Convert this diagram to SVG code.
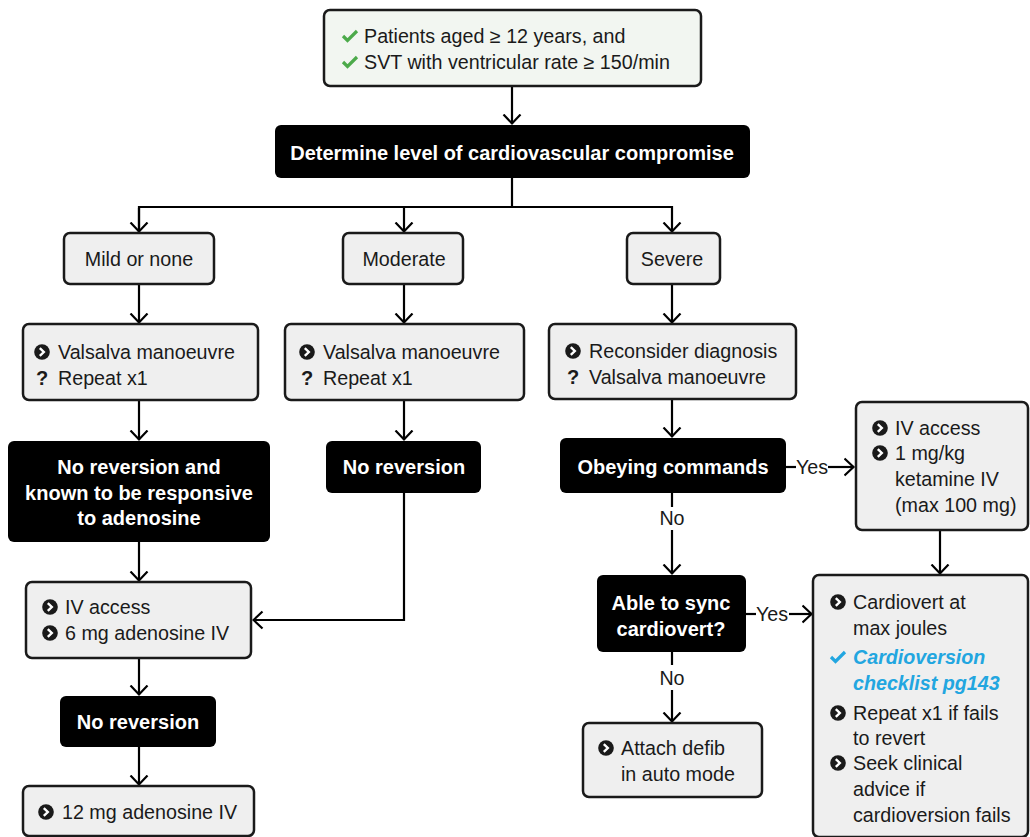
<svg xmlns="http://www.w3.org/2000/svg" width="1030" height="837" viewBox="0 0 1030 837">
  <style>
    .box { fill: #efefef; stroke: #1a1a1a; stroke-width: 2.5; }
    .top { fill: #f2f6f1; stroke: #1a1a1a; stroke-width: 2.5; }
    .dark { fill: #000; stroke: none; }
    .t { font-family: "Liberation Sans", Arial, sans-serif; font-size: 19.7px; fill: #1a1a1a; }
    .b { font-family: "Liberation Sans", Arial, sans-serif; font-size: 20px; font-weight: bold; fill: #fff; text-anchor: middle; }
    .c { text-anchor: middle; }
    .q { font-family: "Liberation Sans", Arial, sans-serif; font-size: 20px; font-weight: bold; fill: #1a1a1a; text-anchor: middle; }
    .blue { font-family: "Liberation Sans", Arial, sans-serif; font-size: 19.7px; font-weight: bold; font-style: italic; fill: #22a6e0; }
    .wire { fill: none; stroke: #000; stroke-width: 2.2; }
  </style>
  <defs>
    <marker id="arr" markerUnits="userSpaceOnUse" markerWidth="12" markerHeight="20" viewBox="0 0 12 20" refX="10.5" refY="10" orient="auto">
      <path d="M1,1.5 L10,10 L1,18.5" fill="none" stroke="#000" stroke-width="2.2"/>
    </marker>
    <!-- round black bullet with a white chevron -->
    <g id="bullet">
      <circle cx="0" cy="0" r="7.8" fill="#1a1a1a"/>
      <path d="M-2.2,-3.8 L1.8,0 L-2.2,3.8" fill="none" stroke="#fff" stroke-width="2.4"/>
    </g>
    <path id="tickG" d="M-7,0 L-2.5,4.5 L7,-5" fill="none" stroke="#4caa4a" stroke-width="3.2"/>
    <path id="tickB" d="M-7,0 L-2.5,4.5 L7,-5" fill="none" stroke="#22a6e0" stroke-width="3.2"/>
  </defs>

  <!-- connectors -->
  <g id="connectors">
    <line class="wire" x1="512" y1="87" x2="512" y2="124" marker-end="url(#arr)"/>
    <polyline class="wire" points="512,178 512,207"/>
    <polyline class="wire" points="139,232 139,207 672,207 672,232" marker-end="url(#arr)"/>
    <line class="wire" x1="139" y1="208" x2="139" y2="232" marker-end="url(#arr)"/>
    <line class="wire" x1="404" y1="207" x2="404" y2="232" marker-end="url(#arr)"/>
    <line class="wire" x1="139" y1="284" x2="139" y2="323" marker-end="url(#arr)"/>
    <line class="wire" x1="404" y1="284" x2="404" y2="323" marker-end="url(#arr)"/>
    <line class="wire" x1="672" y1="284" x2="672" y2="323" marker-end="url(#arr)"/>
    <line class="wire" x1="139" y1="400" x2="139" y2="440" marker-end="url(#arr)"/>
    <line class="wire" x1="404" y1="400" x2="404" y2="440" marker-end="url(#arr)"/>
    <line class="wire" x1="672" y1="399" x2="672" y2="437" marker-end="url(#arr)"/>
    <line class="wire" x1="139" y1="542" x2="139" y2="581" marker-end="url(#arr)"/>
    <polyline class="wire" points="404,493 404,620 253,620" marker-end="url(#arr)"/>
    <line class="wire" x1="139" y1="658" x2="139" y2="695" marker-end="url(#arr)"/>
    <line class="wire" x1="139" y1="747" x2="139" y2="785" marker-end="url(#arr)"/>
    <!-- Obeying commands: yes / no -->
    <line class="wire" x1="786" y1="467" x2="796" y2="467"/>
    <line class="wire" x1="828" y1="467" x2="854" y2="467" marker-end="url(#arr)"/>
    <line class="wire" x1="672" y1="493" x2="672" y2="507"/>
    <line class="wire" x1="672" y1="530" x2="672" y2="574" marker-end="url(#arr)"/>
    <line class="wire" x1="940" y1="530" x2="940" y2="574" marker-end="url(#arr)"/>
    <!-- Able to sync: yes / no -->
    <line class="wire" x1="746" y1="614" x2="756" y2="614"/>
    <line class="wire" x1="789" y1="614" x2="812" y2="614" marker-end="url(#arr)"/>
    <line class="wire" x1="672" y1="652" x2="672" y2="665"/>
    <line class="wire" x1="672" y1="690" x2="672" y2="722" marker-end="url(#arr)"/>
    <text class="t c" x="812" y="474">Yes</text>
    <text class="t c" x="672" y="525">No</text>
    <text class="t c" x="772" y="621">Yes</text>
    <text class="t c" x="672" y="685">No</text>
  </g>

  <g id="criteria">
    <rect class="top" x="324" y="10" width="377" height="76" rx="6"/>
    <use href="#tickG" x="350" y="36"/>
    <text class="t" x="364" y="43">Patients aged ≥ 12 years, and</text>
    <use href="#tickG" x="350" y="62"/>
    <text class="t" x="364" y="69">SVT with ventricular rate ≥ 150/min</text>
  </g>

  <g id="determine">
    <rect class="dark" x="275" y="125" width="475" height="53" rx="6"/>
    <text class="b" x="512" y="160">Determine level of cardiovascular compromise</text>
  </g>

  <g id="mild">
    <rect class="box" x="64" y="233" width="150" height="51" rx="6"/>
    <text class="t c" x="139" y="266">Mild or none</text>
  </g>
  <g id="moderate">
    <rect class="box" x="343" y="233" width="120" height="51" rx="6"/>
    <text class="t c" x="404" y="266">Moderate</text>
  </g>
  <g id="severe">
    <rect class="box" x="627" y="233" width="93" height="51" rx="6"/>
    <text class="t c" x="672" y="266">Severe</text>
  </g>

  <g id="valsalva-mild">
    <rect class="box" x="23" y="324" width="235" height="76" rx="6"/>
    <use href="#bullet" x="42" y="352"/>
    <text class="t" x="58" y="359">Valsalva manoeuvre</text>
    <text class="q" x="42" y="385">?</text>
    <text class="t" x="58" y="385">Repeat x1</text>
  </g>
  <g id="valsalva-moderate">
    <rect class="box" x="285" y="324" width="239" height="76" rx="6"/>
    <use href="#bullet" x="307" y="352"/>
    <text class="t" x="323" y="359">Valsalva manoeuvre</text>
    <text class="q" x="307" y="385">?</text>
    <text class="t" x="323" y="385">Repeat x1</text>
  </g>
  <g id="reconsider">
    <rect class="box" x="549" y="324" width="247" height="75" rx="6"/>
    <use href="#bullet" x="573" y="351"/>
    <text class="t" x="589" y="358">Reconsider diagnosis</text>
    <text class="q" x="573" y="384">?</text>
    <text class="t" x="589" y="384">Valsalva manoeuvre</text>
  </g>

  <g id="known-responsive">
    <rect class="dark" x="8" y="441" width="262" height="101" rx="6"/>
    <text class="b" x="139" y="474">No reversion and</text>
    <text class="b" x="139" y="500">known to be responsive</text>
    <text class="b" x="139" y="525">to adenosine</text>
  </g>
  <g id="no-reversion-moderate">
    <rect class="dark" x="326" y="441" width="155" height="52" rx="6"/>
    <text class="b" x="404" y="474">No reversion</text>
  </g>
  <g id="obeying">
    <rect class="dark" x="560" y="438" width="226" height="55" rx="6"/>
    <text class="b" x="673" y="474">Obeying commands</text>
  </g>
  <g id="ketamine">
    <rect class="box" x="856" y="402" width="172" height="128" rx="6"/>
    <use href="#bullet" x="880" y="428"/>
    <text class="t" x="895" y="435">IV access</text>
    <use href="#bullet" x="880" y="453"/>
    <text class="t" x="895" y="460">1 mg/kg</text>
    <text class="t" x="895" y="486">ketamine IV</text>
    <text class="t" x="895" y="512">(max 100 mg)</text>
  </g>

  <g id="adenosine-6">
    <rect class="box" x="26" y="582" width="225" height="76" rx="6"/>
    <use href="#bullet" x="50" y="607"/>
    <text class="t" x="65" y="614">IV access</text>
    <use href="#bullet" x="50" y="633"/>
    <text class="t" x="65" y="640">6 mg adenosine IV</text>
  </g>
  <g id="no-reversion-left">
    <rect class="dark" x="60" y="696" width="156" height="51" rx="6"/>
    <text class="b" x="138" y="729">No reversion</text>
  </g>
  <g id="adenosine-12">
    <rect class="box" x="23" y="786" width="231" height="50" rx="6"/>
    <use href="#bullet" x="46" y="812"/>
    <text class="t" x="62" y="819">12 mg adenosine IV</text>
  </g>

  <g id="sync">
    <rect class="dark" x="597" y="575" width="149" height="77" rx="6"/>
    <text class="b" x="671" y="610">Able to sync</text>
    <text class="b" x="671" y="636">cardiovert?</text>
  </g>
  <g id="defib">
    <rect class="box" x="583" y="723" width="179" height="74" rx="6"/>
    <use href="#bullet" x="606" y="748"/>
    <text class="t" x="621" y="755">Attach defib</text>
    <text class="t" x="621" y="781">in auto mode</text>
  </g>
  <g id="cardiovert">
    <rect class="box" x="813" y="575" width="215" height="262" rx="6"/>
    <use href="#bullet" x="838" y="602"/>
    <text class="t" x="853" y="609">Cardiovert at</text>
    <text class="t" x="853" y="635">max joules</text>
    <use href="#tickB" x="838" y="657"/>
    <text class="blue" x="853" y="664">Cardioversion</text>
    <text class="blue" x="853" y="690">checklist pg143</text>
    <use href="#bullet" x="838" y="713"/>
    <text class="t" x="853" y="720">Repeat x1 if fails</text>
    <text class="t" x="853" y="745">to revert</text>
    <use href="#bullet" x="838" y="763"/>
    <text class="t" x="853" y="770">Seek clinical</text>
    <text class="t" x="853" y="796">advice if</text>
    <text class="t" x="853" y="822">cardioversion fails</text>
  </g>
</svg>
